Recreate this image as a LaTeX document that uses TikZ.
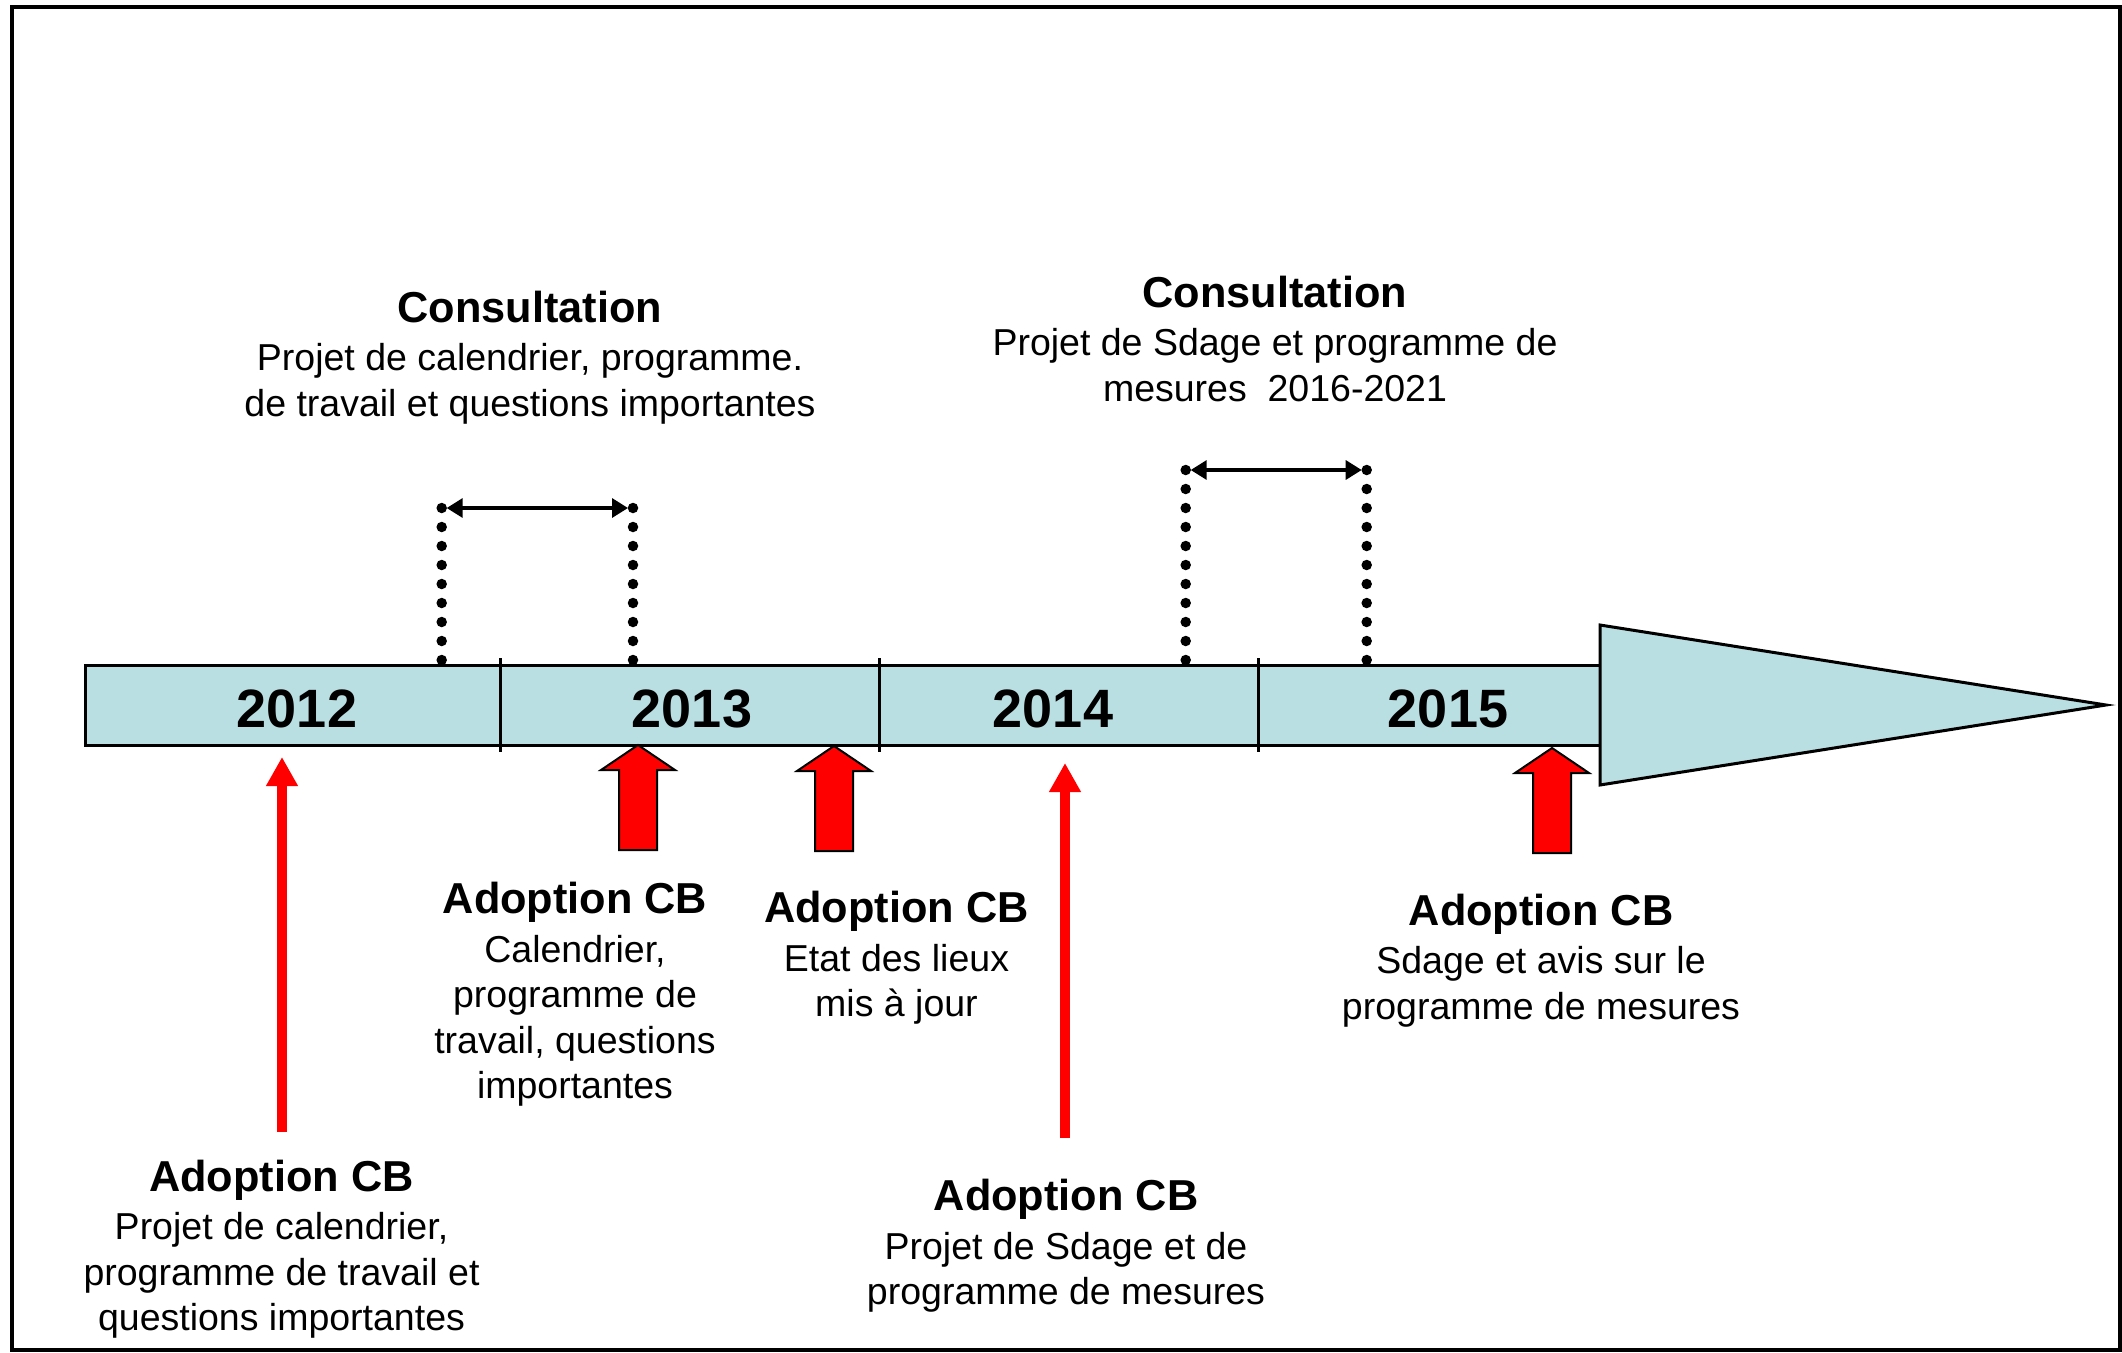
\documentclass[tikz,border=0pt]{standalone}
\usepackage{fontspec}
\setmainfont{Liberation Sans}
\usetikzlibrary{arrows.meta}
\definecolor{barblue}{RGB}{185,223,226}
\newcommand{\hdr}[1]{{\fontsize{43.3}{45.5}\selectfont\bfseries #1}\\[3pt]}
\begin{document}
\begin{tikzpicture}[x=1pt,y=-1pt,
  txt/.style={font=\fontsize{37.5}{45.5}\selectfont, align=center, inner sep=0pt, anchor=base},
  yr/.style={font=\fontsize{54}{60}\selectfont\bfseries, inner sep=0pt, anchor=base},
  dotline/.style={line width=10.5pt, line cap=round, dash pattern=on 0pt off 19pt},
  spanarrow/.style={line width=3.3pt, {Triangle[length=16pt,width=19pt]}-{Triangle[length=16pt,width=19pt]}, shorten <=5pt, shorten >=5pt},
  thinarrow/.style={draw=red, line width=10.5pt, -{Triangle[length=29pt,width=30pt]}},
  blockarrow/.style={fill=red, draw=black, line width=2pt, line join=miter},
  barline/.style={line width=3pt, line join=miter},
]
\useasboundingbox (0,0) rectangle (2122,1352);
% frame
\draw[line width=4pt] (11.5,7) rectangle (2119.5,1349.5);

% timeline bar and arrowhead
\draw[barline, fill=barblue] (85,665) rectangle (1600,745);
\draw[barline, fill=barblue] (1600,625) -- (2106,705) -- (1600,785) -- cycle;
\foreach \x in {500,879,1258} \draw[line width=3pt] (\x,658) -- (\x,752);

% years
\node[yr] (y2012) at (297,727) {2012};
\node[yr] (y2013) at (692,727) {2013};
\node[yr] (y2014) at (1053,727) {2014};
\node[yr] (y2015) at (1448,727) {2015};

% consultation spans
\coordinate (c1a) at (441.7,508);
\coordinate (c1b) at (633,508);
\coordinate (c1ab) at (441.7,661);
\coordinate (c1bb) at (633,661);
\coordinate (c2a) at (1185.7,470);
\coordinate (c2b) at (1366.7,470);
\coordinate (c2ab) at (1185.7,661);
\coordinate (c2bb) at (1366.7,661);
\draw[dotline] (c1a) -- (c1ab);
\draw[dotline] (c1b) -- (c1bb);
\draw[dotline] (c2a) -- (c2ab);
\draw[dotline] (c2b) -- (c2bb);
\draw[spanarrow] (c1a) -- (c1b);
\draw[spanarrow] (c2a) -- (c2b);

% block arrows
\foreach \x/\y in {638/745, 834/746, 1552/748}
  \draw[blockarrow] (\x,\y) -- ++(37,25) -- ++(-18,0) -- ++(0,80) -- ++(-38,0) -- ++(0,-80) -- ++(-18,0) -- cycle;

% thin arrows
\coordinate (t12s) at (282,1132);
\coordinate (t12e) at (282,757);
\coordinate (t14s) at (1065,1138);
\coordinate (t14e) at (1065,763);
\draw[thinarrow] (t12s) -- (t12e);
\draw[thinarrow] (t14s) -- (t14e);

% texts (anchor = baseline of the last line)
\node[txt] (cons1) at (530,416) {\hdr{Consultation}Projet de calendrier, programme.\\de travail et questions importantes};
\node[txt] (cons2) at (1275,401) {\hdr{Consultation}Projet de Sdage et programme de\\mesures\ \ 2016-2021};
\node[txt] (ad13) at (575,1098.5) {\hdr{Adoption CB}Calendrier,\\programme de\\travail, questions\\importantes};
\node[txt] (adetat) at (896.5,1016.5) {\hdr{Adoption CB}Etat des lieux\\mis à jour};
\node[txt] (ad15) at (1541,1019) {\hdr{Adoption CB}Sdage et avis sur le\\programme de mesures};
\node[txt] (ad12) at (281.5,1330.5) {\hdr{Adoption CB}Projet de calendrier,\\programme de travail et\\questions importantes};
\node[txt] (ad14) at (1066,1304.5) {\hdr{Adoption CB}Projet de Sdage et de\\programme de mesures};
\end{tikzpicture}
\end{document}
